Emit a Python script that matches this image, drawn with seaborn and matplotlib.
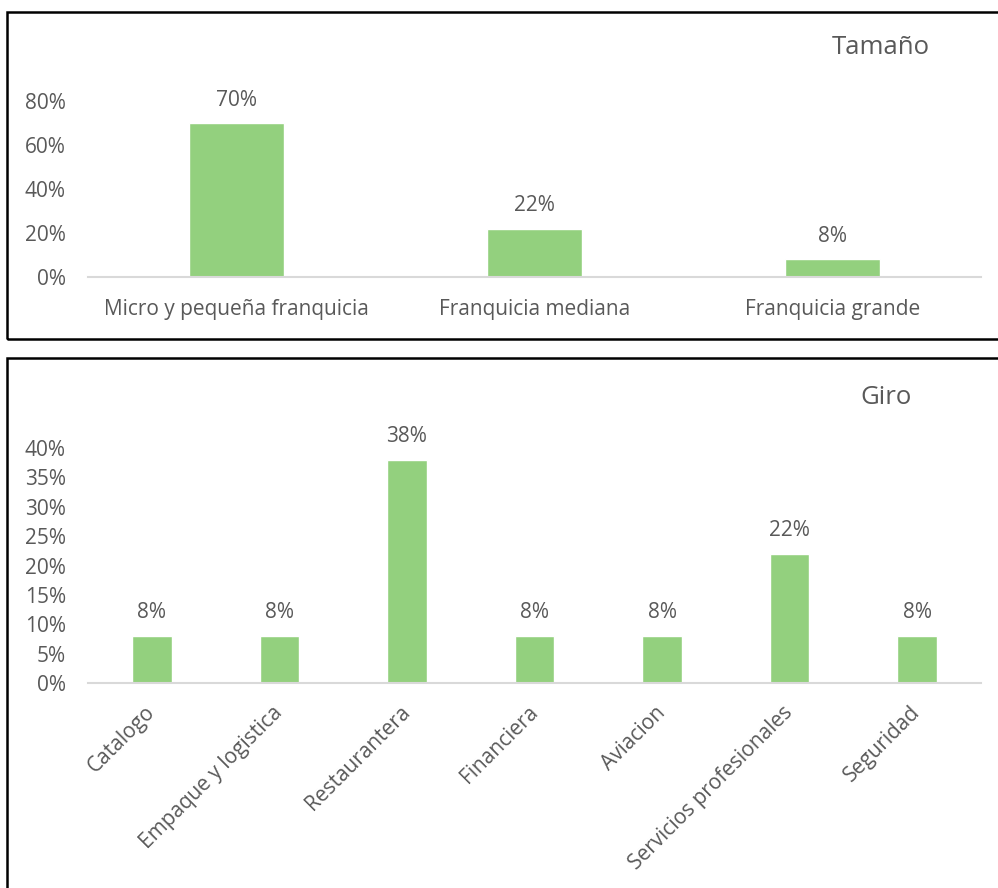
import matplotlib
matplotlib.use("Agg")
import matplotlib.pyplot as plt
import seaborn as sns
import pandas as pd
from matplotlib.patches import Rectangle
from matplotlib.ticker import PercentFormatter

# ---- data ----
size_categories = ["Micro y pequeña franquicia", "Franquicia mediana", "Franquicia grande"]
size_values = [0.70, 0.22, 0.08]
size_yticks = [0.0, 0.2, 0.4, 0.6, 0.8]

giro_categories = ["Catalogo", "Empaque y logistica", "Restaurantera", "Financiera",
                   "Aviacion", "Servicios profesionales", "Seguridad"]
giro_values = [0.08, 0.08, 0.38, 0.08, 0.08, 0.22, 0.08]
giro_yticks = [0.0, 0.05, 0.10, 0.15, 0.20, 0.25, 0.30, 0.35, 0.40]

title_top = "Tamaño"
title_bottom = "Giro"

# ---- style ----
sns.set_theme(style="white")
plt.rcParams["font.family"] = ["Open Sans", "DejaVu Sans"]
TEXT = "#595959"
BAR = "#93D07E"
AXIS = "#D9D9D9"
FS = 15

W, H = 998, 888
fig = plt.figure(figsize=(W / 100, H / 100), dpi=100)


def px_axes(left, top, right, bottom):
    return fig.add_axes([left / W, 1 - bottom / H, (right - left) / W, (bottom - top) / H])


def px_rect(left, top, right, bottom):
    r = Rectangle((left / W, 1 - bottom / H), (right - left) / W, (bottom - top) / H,
                  transform=fig.transFigure, fill=False, edgecolor="black", linewidth=1.8,
                  clip_on=False)
    fig.patches.append(r)


px_rect(7, 12, 1010, 339)
px_rect(7, 358, 1010, 900)


def style_axes(ax, yticks, ylim):
    ax.set_ylim(0, ylim)
    ax.set_yticks(yticks)
    ax.yaxis.set_major_formatter(PercentFormatter(1.0, decimals=0))
    for s in ["top", "right", "left"]:
        ax.spines[s].set_visible(False)
    ax.spines["bottom"].set_color(AXIS)
    ax.spines["bottom"].set_linewidth(1.5)
    ax.tick_params(axis="both", length=0, colors=TEXT, labelsize=FS)
    ax.tick_params(axis="y", pad=16)
    ax.set_xlabel("")
    ax.set_ylabel("")
    ax.grid(False)
    ax.set_facecolor("none")


# ---- top chart ----
ax1 = px_axes(88, 101, 981, 277)
df1 = pd.DataFrame({"cat": size_categories, "val": size_values})
sns.barplot(data=df1, x="cat", y="val", color=BAR, width=0.32, ax=ax1, saturation=1)
style_axes(ax1, size_yticks, 0.8)
ax1.tick_params(axis="x", pad=16)
for c in ax1.containers:
    ax1.bar_label(c, labels=[f"{v:.0%}" for v in size_values], padding=9,
                  color=TEXT, fontsize=FS)
fig.text(930 / W, 1 - 48 / H, title_top, ha="right", va="center", color=TEXT, fontsize=18.5)

# ---- bottom chart ----
ax2 = px_axes(88, 448, 981, 683)
df2 = pd.DataFrame({"cat": giro_categories, "val": giro_values})
sns.barplot(data=df2, x="cat", y="val", color=BAR, width=0.31, ax=ax2, saturation=1)
style_axes(ax2, giro_yticks, 0.4)
ax2.tick_params(axis="x", pad=19)
for lab in ax2.get_xticklabels():
    lab.set_rotation(45)
    lab.set_ha("right")
    lab.set_va("center")
    lab.set_rotation_mode("anchor")
for c in ax2.containers:
    ax2.bar_label(c, labels=[f"{v:.0%}" for v in giro_values], padding=9,
                  color=TEXT, fontsize=FS)
fig.text(912 / W, 1 - 398 / H, title_bottom, ha="right", va="center", color=TEXT, fontsize=18.5)

fig.savefig("out.png", dpi=100, facecolor="white")
